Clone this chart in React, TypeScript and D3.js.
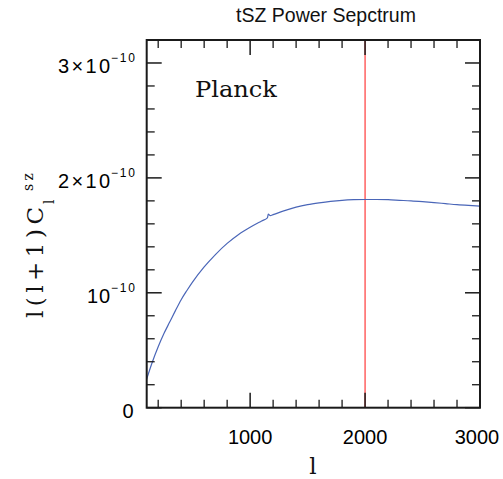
import React from "react";
import * as d3 from "d3";

const ells = [100, 150, 200, 250, 300, 350, 400, 450, 500, 600, 700, 800, 900, 1000, 1100, 1150, 1158, 1175, 1200, 1300, 1400, 1500, 1600, 1700, 1800, 1900, 2000, 2100, 2200, 2300, 2400, 2500, 2600, 2700, 2800, 2900, 3000];
const cl = [0.25, 0.4, 0.53, 0.645, 0.745, 0.845, 0.94, 1.02, 1.095, 1.225, 1.335, 1.43, 1.508, 1.57, 1.625, 1.652, 1.684, 1.672, 1.68, 1.715, 1.745, 1.767, 1.783, 1.796, 1.805, 1.81, 1.812, 1.812, 1.81, 1.805, 1.8, 1.793, 1.785, 1.776, 1.767, 1.76, 1.754].map((v) => v * 1e-10);
const xMajor = [1000, 2000, 3000];
const yMajor = [0, 1e-10, 2e-10, 3e-10];
const yLabels = [
  { base: "0", exp: "" },
  { base: "10", exp: "−10" },
  { base: "2×10", exp: "−10" },
  { base: "3×10", exp: "−10" },
];
const markerEll = 2000;

const W = 503;
const H = 479;
const L = 146.7, R = 480, T = 40, B = 407.7;
const SANS = "Liberation Sans, Arial, sans-serif";
const SERIF = "DejaVu Serif, serif";

export default function App() {
  const x = d3.scaleLinear().domain([100, 3000]).range([L, R]);
  const y = d3.scaleLinear().domain([0, 3.2e-10]).range([B, T]);
  const line = d3
    .line<number>()
    .x((_, i) => x(ells[i]))
    .y((d) => y(d))
    .curve(d3.curveMonotoneX);
  const xMinor = d3.range(200, 3001, 200).filter((v) => !xMajor.includes(v));
  const yMinor = d3.range(0, 3.21e-10, 0.2e-10).filter((v) => !yMajor.some((m) => Math.abs(m - v) < 1e-13));
  const ink = "#1a1a1a";
  return (
    <svg width={W} height={H} style={{ position: "absolute", left: 0, top: 0 }}>
      <rect width={W} height={H} fill="#fff" />
      <text x={326} y={22} textAnchor="middle" fontFamily={SANS} fontSize={19.5} fill="#111">tSZ Power Sepctrum</text>
      <line x1={x(markerEll)} x2={x(markerEll)} y1={T} y2={B} stroke="#ff3a3a" strokeWidth={1.2} />
      <path d={line(cl) || ""} fill="none" stroke="#4a66b8" strokeWidth={1.2} />
      {xMajor.map((v) => (
        <g key={"xM" + v}>
          <line x1={x(v)} x2={x(v)} y1={B} y2={B - 15} stroke={ink} strokeWidth={1.5} />
          <line x1={x(v)} x2={x(v)} y1={T} y2={T + 15} stroke={ink} strokeWidth={1.5} />
          <text x={x(v) - (v === 3000 ? 3 : 0)} y={443.5} textAnchor="middle" fontFamily={SANS} fontSize={20} fill="#000">{v}</text>
        </g>
      ))}
      {xMinor.map((v) => (
        <g key={"xm" + v}>
          <line x1={x(v)} x2={x(v)} y1={B} y2={B - 8} stroke={ink} strokeWidth={1.3} />
          <line x1={x(v)} x2={x(v)} y1={T} y2={T + 8} stroke={ink} strokeWidth={1.3} />
        </g>
      ))}
      {yMajor.map((v, i) => {
        const lab = yLabels[i];
        const ty = y(v) + 10;
        const baseLen = lab.base.length === 4 ? 52 : lab.base.length === 2 ? 23 : 10.3;
        return (
          <g key={"yM" + i}>
            <line x1={L} x2={L + 15} y1={y(v)} y2={y(v)} stroke={ink} strokeWidth={1.5} />
            <line x1={R} x2={R - 15} y1={y(v)} y2={y(v)} stroke={ink} strokeWidth={1.5} />
            {lab.exp === "" ? (
              <text x={133.5} y={ty} textAnchor="end" fontFamily={SANS} fontSize={20} fill="#000">{lab.base}</text>
            ) : (
              <g>
                <text x={110 - baseLen} y={ty} fontFamily={SANS} fontSize={20} textLength={baseLen} lengthAdjust="spacing" fill="#000">{lab.base}</text>
                <text x={111} y={ty - 11} fontFamily={SANS} fontSize={12} textLength={24} lengthAdjust="spacing" fill="#000">{lab.exp}</text>
              </g>
            )}
          </g>
        );
      })}
      {yMinor.map((v, i) => (
        <g key={"ym" + i}>
          <line x1={L} x2={L + 8} y1={y(v)} y2={y(v)} stroke={ink} strokeWidth={1.3} />
          <line x1={R} x2={R - 8} y1={y(v)} y2={y(v)} stroke={ink} strokeWidth={1.3} />
        </g>
      ))}
      <rect x={L} y={T} width={R - L} height={B - T} fill="none" stroke={ink} strokeWidth={2} />
      <text x={195} y={96.7} fontFamily={SERIF} fontSize={23} textLength={82} lengthAdjust="spacingAndGlyphs" fill="#111">Planck</text>
      <text x={313} y={474} textAnchor="middle" fontFamily={SERIF} fontSize={23} fill="#111">l</text>
      <g transform="translate(43,318) rotate(-90)">
        <text x={0} y={0} fontFamily={SERIF} fontSize={23} textLength={111} lengthAdjust="spacing" fill="#111">l(l+1)C</text>
        <text x={114} y={11} fontFamily={SERIF} fontSize={14} fill="#111">l</text>
        <text x={127} y={-10} fontFamily={SERIF} fontSize={14} textLength={18} lengthAdjust="spacing" fill="#111">sz</text>
      </g>
    </svg>
  );
}
